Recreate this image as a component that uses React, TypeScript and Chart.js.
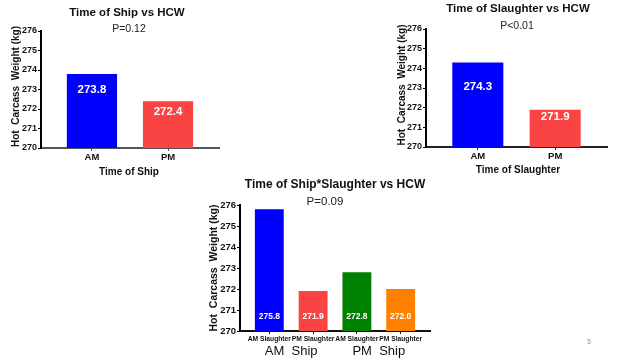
import React, { useEffect, useRef } from "react";
import { Chart, registerables } from "chart.js";

Chart.register(...registerables);

// ---- data ----
const shipCategories = ["AM", "PM"];
const shipHcw = [273.8, 272.4];
const slaughterCategories = ["AM", "PM"];
const slaughterHcw = [274.3, 271.9];
const comboCategories = ["AM Slaughter", "PM Slaughter", "AM Slaughter", "PM Slaughter"];
const comboGroups = ["AM  Ship", "PM  Ship"];
const comboHcw = [275.8, 271.9, 272.8, 272.0];
const yTicks = [270, 271, 272, 273, 274, 275, 276];
const yMin = 270;
const yMax = 276;

const FONT = "'Liberation Sans', Arial, Helvetica, sans-serif";

const overlay = {
  id: "overlay",
  afterDatasetsDraw(chart: any, _args: any, o: any) {
    const { ctx, chartArea: a, scales } = chart;
    const cx = (a.left + a.right) / 2;
    ctx.save();
    ctx.textAlign = "center";
    ctx.textBaseline = "middle";
    ctx.fillStyle = "#111";
    ctx.font = `bold ${o.titleSize}px ${FONT}`;
    ctx.fillText(o.title, cx + o.titleDx, a.top + o.titleDy);
    ctx.fillStyle = "#222";
    ctx.font = `${o.subSize}px ${FONT}`;
    ctx.fillText(o.subtitle, cx + o.subDx, a.top + o.subDy);
    // y title
    ctx.save();
    ctx.translate(a.left - o.yTitleOffset, (a.top + a.bottom) / 2 + o.yTitleDy);
    ctx.rotate(-Math.PI / 2);
    ctx.fillStyle = "#111";
    ctx.font = `bold ${o.yTitleSize}px ${FONT}`;
    ctx.fillText(o.yTitle, 0, 0);
    ctx.restore();
    const meta = chart.getDatasetMeta(0);
    // x title
    if (o.xTitle) {
      ctx.fillStyle = "#111";
      ctx.font = `bold ${o.xTitleSize}px ${FONT}`;
      ctx.fillText(o.xTitle, cx + o.xTitleDx, a.bottom + o.xTitleDy);
    }
    // group labels
    if (o.groups) {
      ctx.fillStyle = "#111";
      ctx.font = `${o.groupSize}px ${FONT}`;
      o.groups.forEach((g: string, gi: number) => {
        const b1 = meta.data[gi * 2];
        const b2 = meta.data[gi * 2 + 1];
        ctx.fillText(g, (b1.x + b2.x) / 2, a.bottom + o.groupDy);
      });
    }
    // value labels
    const vals = chart.data.datasets[0].data;
    ctx.fillStyle = "#fff";
    ctx.font = `bold ${o.labelSize}px ${FONT}`;
    meta.data.forEach((bar: any, i: number) => {
      ctx.fillText(vals[i].y.toFixed(1), bar.x, scales.y.getPixelForValue(o.labelAt[i]));
    });
    ctx.restore();
  },
};

function makeConfig(p: any) {
  const n = p.categories.length;
  return {
    type: "bar",
    data: {
      datasets: [
        {
          data: p.values.map((v: number, i: number) => ({ x: i, y: v })),
          backgroundColor: p.colors,
          borderWidth: 0,
          barPercentage: 0.66,
          categoryPercentage: 1,
        },
      ],
    },
    options: {
      responsive: false,
      animation: false,
      devicePixelRatio: 1,
      layout: { padding: p.padding },
      plugins: {
        legend: { display: false },
        tooltip: { enabled: false },
        overlay: p.overlay,
      },
      scales: {
        x: {
          type: "linear",
          bounds: "data",
          offset: false,
          min: -0.67,
          max: n - 1 + 0.67,
          afterBuildTicks: (s: any) => {
            s.ticks = p.categories.map((_: string, i: number) => ({ value: i }));
          },
          afterFit: (s: any) => {
            s.height = p.xAxisH;
          },
          ticks: {
            callback: (v: number) => p.categories[v] ?? "",
            autoSkip: false,
            maxRotation: 0,
            minRotation: 0,
            padding: 1,
            color: "#111",
            font: { family: FONT, size: p.xTickSize, weight: "bold" },
          },
          grid: {
            display: true,
            offset: false,
            drawOnChartArea: false,
            drawTicks: true,
            tickLength: 3,
            color: p.xColor,
            lineWidth: 1,
          },
          border: { display: true, color: p.xColor, width: 2 },
        },
        y: {
          min: yMin,
          max: yMax,
          afterBuildTicks: (s: any) => {
            s.ticks = yTicks.map((v) => ({ value: v }));
          },
          afterFit: (s: any) => {
            s.width = p.yAxisW;
          },
          ticks: {
            padding: 1,
            color: "#111",
            font: { family: FONT, size: p.yTickSize, weight: "bold" },
          },
          grid: { display: true, drawOnChartArea: false, drawTicks: true, tickLength: 3, color: "#000", lineWidth: 1 },
          border: { display: true, color: "#000", width: 2 },
        },
      },
    },
    plugins: [overlay],
  } as any;
}

function Panel({ left, top, width, height, params }: any) {
  const ref = useRef<HTMLCanvasElement>(null);
  useEffect(() => {
    const chart = new Chart(ref.current!, makeConfig(params));
    return () => chart.destroy();
  }, []);
  return (
    <canvas
      ref={ref}
      width={width}
      height={height}
      style={{ position: "absolute", left, top, width, height }}
    />
  );
}

const RED = "#FA4343";
const BLUE = "#0000FF";

const shipParams = {
  categories: shipCategories,
  values: shipHcw,
  colors: [BLUE, RED],
  padding: { left: 0, right: 41, top: 31, bottom: 0 },
  yAxisW: 41,
  xAxisH: 32,
  xColor: "#555",
  xTickSize: 9.5,
  yTickSize: 9,
  overlay: {
    title: "Time of Ship vs HCW",
    titleSize: 11.5,
    titleDx: -3,
    titleDy: -18,
    subtitle: "P=0.12",
    subSize: 10.5,
    subDx: -1,
    subDy: -2,
    yTitle: "Hot  Carcass  Weight (kg)",
    yTitleSize: 10,
    yTitleOffset: 25,
    yTitleDy: -3,
    xTitle: "Time of Ship",
    xTitleSize: 10,
    xTitleDx: -1,
    xTitleDy: 24,
    labelSize: 11.5,
    labelAt: [273.0, 271.85],
  },
};

const slaughterParams = {
  categories: slaughterCategories,
  values: slaughterHcw,
  colors: [BLUE, RED],
  padding: { left: 0, right: 33, top: 29, bottom: 0 },
  yAxisW: 46,
  xAxisH: 33,
  xColor: "#222",
  xTickSize: 9.5,
  yTickSize: 9,
  overlay: {
    title: "Time of Slaughter vs HCW",
    titleSize: 11.5,
    titleDx: 1.5,
    titleDy: -20,
    subtitle: "P<0.01",
    subSize: 10.5,
    subDx: 0.5,
    subDy: -3,
    yTitle: "Hot  Carcass  Weight (kg)",
    yTitleSize: 10,
    yTitleOffset: 24,
    yTitleDy: -3,
    xTitle: "Time of Slaughter",
    xTitleSize: 10,
    xTitleDx: 1.5,
    xTitleDy: 23,
    labelSize: 11.5,
    labelAt: [273.05, 271.55],
  },
};

const comboParams = {
  categories: comboCategories,
  values: comboHcw,
  colors: [BLUE, RED, "#008000", "#FF8000"],
  padding: { left: 0, right: 20, top: 30, bottom: 0 },
  yAxisW: 50,
  xAxisH: 29,
  xColor: "#111",
  xTickSize: 6.7,
  yTickSize: 9.5,
  overlay: {
    title: "Time of Ship*Slaughter vs HCW",
    titleSize: 12,
    titleDx: 0,
    titleDy: -20,
    subtitle: "P=0.09",
    subSize: 11.5,
    subDx: -10,
    subDy: -3,
    yTitle: "Hot  Carcass  Weight (kg)",
    yTitleSize: 10.5,
    yTitleOffset: 26,
    yTitleDy: 0,
    groups: comboGroups,
    groupSize: 13,
    groupDy: 20,
    labelSize: 8.5,
    labelAt: [270.7, 270.7, 270.7, 270.7],
  },
};

export default function App() {
  return (
    <div style={{ position: "absolute", left: 0, top: 0, width: 640, height: 360, background: "#fff", overflow: "hidden" }}>
      <Panel left={0} top={0} width={260} height={180} params={shipParams} />
      <Panel left={380} top={0} width={260} height={180} params={slaughterParams} />
      <Panel left={190} top={175} width={260} height={185} params={comboParams} />
      <span
        style={{ position: "absolute", left: 587, top: 338, fontSize: 7, color: "#999", fontFamily: FONT }}
      >
        5
      </span>
    </div>
  );
}
